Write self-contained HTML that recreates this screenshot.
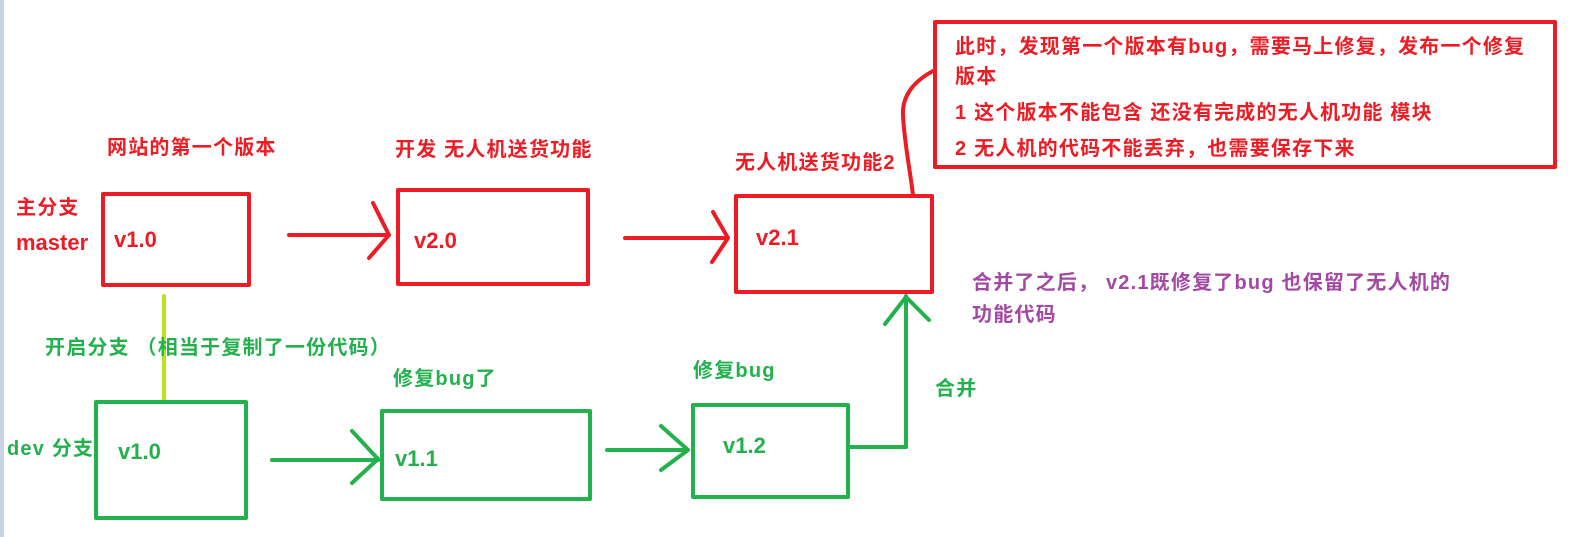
<!DOCTYPE html>
<html><head><meta charset="utf-8"><style>
html,body{margin:0;padding:0;background:#fff;}
svg{display:block;}
text{font-family:"Liberation Sans","Noto Sans CJK SC",sans-serif;font-weight:bold;font-size:20px;letter-spacing:1.2px;}
.l{font-size:22px;letter-spacing:0;}
.r{fill:#ed1c24}.g{fill:#22b14c}.p{fill:#a349a4}
</style></head><body>
<svg width="1574" height="537" viewBox="0 0 1574 537" xmlns="http://www.w3.org/2000/svg">
<rect x="0" y="0" width="4" height="537" fill="#c8d3e6"/>
<g fill="none" stroke="#ed1c24" stroke-width="4" stroke-linecap="round" stroke-linejoin="round">
<rect x="103" y="194" width="146" height="91"/>
<rect x="398" y="190" width="190" height="94"/>
<rect x="736" y="196" width="196" height="96"/>
<rect x="935" y="22" width="620" height="145"/>
<path d="M289 235 H389 M373 203 L389 235 L369 258"/>
<path d="M625 238 H727 M713 212 L728 238 L712 262"/>
<path d="M935 70 C915 80 902 95 903 115 C904 140 910 170 913 195"/>
</g>
<line x1="164" y1="296" x2="164" y2="401" stroke="#b5e61d" stroke-width="4" stroke-linecap="round"/>
<g fill="none" stroke="#22b14c" stroke-width="4" stroke-linecap="round" stroke-linejoin="round">
<rect x="96" y="402" width="150" height="116"/>
<rect x="382" y="411" width="208" height="88"/>
<rect x="693" y="405" width="155" height="92"/>
<path d="M272 460 H378 M352 431 L378 459 L352 483"/>
<path d="M607 450 H688 M661 426 L688 450 L661 470"/>
<path d="M849 447 H906 V296 M885 324 L906 297 L929 320"/>
</g>
<text x="107" y="154" class="r">网站的第一个版本</text>
<text x="395" y="156" class="r">开发 无人机送货功能</text>
<text x="735" y="169" class="r">无人机送货功能2</text>
<text x="16" y="214" class="r">主分支</text>
<text x="16" y="250" class="r l">master</text>
<text x="114" y="247" class="r l">v1.0</text>
<text x="414" y="248" class="r l">v2.0</text>
<text x="756" y="245" class="r l">v2.1</text>
<text x="955" y="53" class="r">此时，发现第一个版本有bug，需要马上修复，发布一个修复</text>
<text x="955" y="83" class="r">版本</text>
<text x="955" y="119" class="r">1 这个版本不能包含 还没有完成的无人机功能 模块</text>
<text x="955" y="155" class="r">2 无人机的代码不能丢弃，也需要保存下来</text>
<text x="45" y="354" class="g">开启分支 （相当于复制了一份代码）</text>
<text x="7" y="455" class="g">dev 分支</text>
<text x="118" y="459" class="g l">v1.0</text>
<text x="393" y="385" class="g">修复bug了</text>
<text x="395" y="466" class="g l">v1.1</text>
<text x="693" y="377" class="g">修复bug</text>
<text x="723" y="453" class="g l">v1.2</text>
<text x="935" y="395" class="g">合并</text>
<text x="972" y="289" class="p">合并了之后， v2.1既修复了bug 也保留了无人机的</text>
<text x="972" y="321" class="p">功能代码</text>
</svg>
</body></html>
